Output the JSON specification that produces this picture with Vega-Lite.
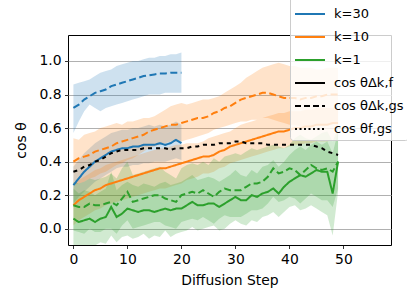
{
"$schema":"https://vega.github.io/schema/vega-lite/v6.json",
"width":323,"height":210,
"autosize":"none",
"padding":{"left":68,"top":35,"right":16,"bottom":60},
"background":"white",
"title":{"text":"5150 Training Epochs","anchor":"start","frame":"group","fontSize":16.5,"fontWeight":"normal","font":"DejaVu Sans","color":"black","offset":6,"dy":3},
"config":{
 "view":{"stroke":"black","strokeWidth":1},
 "axis":{"domain":false,"labelFont":"DejaVu Sans","titleFont":"DejaVu Sans","labelFontSize":13.9,"titleFontSize":13.9,"titleFontWeight":"normal","labelColor":"black","titleColor":"black","tickColor":"black","tickSize":3.5,"tickWidth":0.8,"labelPadding":3.5,"gridColor":"#b0b0b0","gridWidth":1.2},
 "legend":{"orient":"none","legendX":222,"legendY":-41,"title":null,"symbolType":"stroke","symbolSize":900,"symbolStrokeWidth":2,"labelFontSize":13,"labelFont":"DejaVu Sans","labelColor":"black","fillColor":"rgba(255,255,255,0.8)","strokeColor":"#cccccc","cornerRadius":3,"padding":4,"rowPadding":-2.6,"labelOffset":8}
},
"data":{"values":[
{"s":0,"k":"k=30","m":"f","v":0.26,"lo":0.15,"hi":0.37},{"s":1,"k":"k=30","m":"f","v":0.30,"lo":0.19,"hi":0.41},{"s":2,"k":"k=30","m":"f","v":0.34,"lo":0.22,"hi":0.45},{"s":3,"k":"k=30","m":"f","v":0.37,"lo":0.25,"hi":0.48},{"s":4,"k":"k=30","m":"f","v":0.40,"lo":0.28,"hi":0.51},{"s":5,"k":"k=30","m":"f","v":0.42,"lo":0.30,"hi":0.53},{"s":6,"k":"k=30","m":"f","v":0.44,"lo":0.32,"hi":0.55},{"s":7,"k":"k=30","m":"f","v":0.46,"lo":0.34,"hi":0.57},{"s":8,"k":"k=30","m":"f","v":0.47,"lo":0.36,"hi":0.58},{"s":9,"k":"k=30","m":"f","v":0.48,"lo":0.37,"hi":0.59},{"s":10,"k":"k=30","m":"f","v":0.48,"lo":0.37,"hi":0.59},{"s":11,"k":"k=30","m":"f","v":0.49,"lo":0.38,"hi":0.60},{"s":12,"k":"k=30","m":"f","v":0.49,"lo":0.38,"hi":0.60},{"s":13,"k":"k=30","m":"f","v":0.50,"lo":0.39,"hi":0.61},{"s":14,"k":"k=30","m":"f","v":0.50,"lo":0.39,"hi":0.62},{"s":15,"k":"k=30","m":"f","v":0.50,"lo":0.40,"hi":0.61},{"s":16,"k":"k=30","m":"f","v":0.51,"lo":0.40,"hi":0.62},{"s":17,"k":"k=30","m":"f","v":0.50,"lo":0.40,"hi":0.61},{"s":18,"k":"k=30","m":"f","v":0.51,"lo":0.41,"hi":0.62},{"s":19,"k":"k=30","m":"f","v":0.53,"lo":0.42,"hi":0.64},{"s":20,"k":"k=30","m":"f","v":0.51,"lo":0.41,"hi":0.62},
{"s":0,"k":"k=30","m":"gs","v":0.72,"lo":0.57,"hi":0.86},{"s":1,"k":"k=30","m":"gs","v":0.74,"lo":0.64,"hi":0.87},{"s":2,"k":"k=30","m":"gs","v":0.77,"lo":0.70,"hi":0.88},{"s":3,"k":"k=30","m":"gs","v":0.79,"lo":0.74,"hi":0.89},{"s":4,"k":"k=30","m":"gs","v":0.81,"lo":0.72,"hi":0.91},{"s":5,"k":"k=30","m":"gs","v":0.82,"lo":0.70,"hi":0.93},{"s":6,"k":"k=30","m":"gs","v":0.83,"lo":0.72,"hi":0.94},{"s":7,"k":"k=30","m":"gs","v":0.85,"lo":0.73,"hi":0.95},{"s":8,"k":"k=30","m":"gs","v":0.86,"lo":0.74,"hi":0.97},{"s":9,"k":"k=30","m":"gs","v":0.87,"lo":0.75,"hi":0.98},{"s":10,"k":"k=30","m":"gs","v":0.88,"lo":0.76,"hi":0.99},{"s":11,"k":"k=30","m":"gs","v":0.89,"lo":0.77,"hi":1.0},{"s":12,"k":"k=30","m":"gs","v":0.90,"lo":0.78,"hi":1.0},{"s":13,"k":"k=30","m":"gs","v":0.91,"lo":0.79,"hi":1.01},{"s":14,"k":"k=30","m":"gs","v":0.915,"lo":0.80,"hi":1.02},{"s":15,"k":"k=30","m":"gs","v":0.92,"lo":0.80,"hi":1.02},{"s":16,"k":"k=30","m":"gs","v":0.925,"lo":0.80,"hi":1.03},{"s":17,"k":"k=30","m":"gs","v":0.925,"lo":0.81,"hi":1.03},{"s":18,"k":"k=30","m":"gs","v":0.93,"lo":0.81,"hi":1.04},{"s":19,"k":"k=30","m":"gs","v":0.93,"lo":0.81,"hi":1.04},{"s":20,"k":"k=30","m":"gs","v":0.93,"lo":0.81,"hi":1.05},
{"s":0,"k":"k=10","m":"f","v":0.14,"lo":0.02,"hi":0.27},{"s":1,"k":"k=10","m":"f","v":0.17,"lo":0.05,"hi":0.29},{"s":2,"k":"k=10","m":"f","v":0.19,"lo":0.07,"hi":0.31},{"s":3,"k":"k=10","m":"f","v":0.21,"lo":0.09,"hi":0.33},{"s":4,"k":"k=10","m":"f","v":0.23,"lo":0.11,"hi":0.35},{"s":5,"k":"k=10","m":"f","v":0.24,"lo":0.12,"hi":0.36},{"s":6,"k":"k=10","m":"f","v":0.26,"lo":0.14,"hi":0.38},{"s":7,"k":"k=10","m":"f","v":0.27,"lo":0.15,"hi":0.39},{"s":8,"k":"k=10","m":"f","v":0.28,"lo":0.16,"hi":0.40},{"s":9,"k":"k=10","m":"f","v":0.29,"lo":0.17,"hi":0.41},{"s":10,"k":"k=10","m":"f","v":0.30,"lo":0.18,"hi":0.42},{"s":11,"k":"k=10","m":"f","v":0.31,"lo":0.19,"hi":0.43},{"s":12,"k":"k=10","m":"f","v":0.32,"lo":0.20,"hi":0.44},{"s":13,"k":"k=10","m":"f","v":0.33,"lo":0.21,"hi":0.45},{"s":14,"k":"k=10","m":"f","v":0.34,"lo":0.22,"hi":0.46},{"s":15,"k":"k=10","m":"f","v":0.35,"lo":0.23,"hi":0.47},{"s":16,"k":"k=10","m":"f","v":0.36,"lo":0.24,"hi":0.48},{"s":17,"k":"k=10","m":"f","v":0.36,"lo":0.24,"hi":0.48},{"s":18,"k":"k=10","m":"f","v":0.37,"lo":0.25,"hi":0.49},{"s":19,"k":"k=10","m":"f","v":0.38,"lo":0.26,"hi":0.50},{"s":20,"k":"k=10","m":"f","v":0.39,"lo":0.27,"hi":0.50},{"s":21,"k":"k=10","m":"f","v":0.40,"lo":0.29,"hi":0.51},{"s":22,"k":"k=10","m":"f","v":0.41,"lo":0.30,"hi":0.51},{"s":23,"k":"k=10","m":"f","v":0.42,"lo":0.31,"hi":0.51},{"s":24,"k":"k=10","m":"f","v":0.43,"lo":0.33,"hi":0.52},{"s":25,"k":"k=10","m":"f","v":0.43,"lo":0.33,"hi":0.54},{"s":26,"k":"k=10","m":"f","v":0.44,"lo":0.34,"hi":0.55},{"s":27,"k":"k=10","m":"f","v":0.46,"lo":0.36,"hi":0.56},{"s":28,"k":"k=10","m":"f","v":0.47,"lo":0.37,"hi":0.57},{"s":29,"k":"k=10","m":"f","v":0.49,"lo":0.39,"hi":0.58},{"s":30,"k":"k=10","m":"f","v":0.50,"lo":0.40,"hi":0.60},{"s":31,"k":"k=10","m":"f","v":0.51,"lo":0.41,"hi":0.62},{"s":32,"k":"k=10","m":"f","v":0.52,"lo":0.42,"hi":0.63},{"s":33,"k":"k=10","m":"f","v":0.53,"lo":0.43,"hi":0.64},{"s":34,"k":"k=10","m":"f","v":0.54,"lo":0.44,"hi":0.65},{"s":35,"k":"k=10","m":"f","v":0.55,"lo":0.45,"hi":0.66},{"s":36,"k":"k=10","m":"f","v":0.56,"lo":0.46,"hi":0.67},{"s":37,"k":"k=10","m":"f","v":0.57,"lo":0.47,"hi":0.68},{"s":38,"k":"k=10","m":"f","v":0.58,"lo":0.48,"hi":0.69},{"s":39,"k":"k=10","m":"f","v":0.58,"lo":0.48,"hi":0.69},{"s":40,"k":"k=10","m":"f","v":0.59,"lo":0.49,"hi":0.70},{"s":41,"k":"k=10","m":"f","v":0.60,"lo":0.50,"hi":0.70},{"s":42,"k":"k=10","m":"f","v":0.60,"lo":0.50,"hi":0.70},{"s":43,"k":"k=10","m":"f","v":0.61,"lo":0.51,"hi":0.71},{"s":44,"k":"k=10","m":"f","v":0.61,"lo":0.51,"hi":0.71},{"s":45,"k":"k=10","m":"f","v":0.62,"lo":0.52,"hi":0.72},{"s":46,"k":"k=10","m":"f","v":0.62,"lo":0.52,"hi":0.72},{"s":47,"k":"k=10","m":"f","v":0.62,"lo":0.52,"hi":0.72},{"s":48,"k":"k=10","m":"f","v":0.63,"lo":0.53,"hi":0.72},{"s":49,"k":"k=10","m":"f","v":0.63,"lo":0.53,"hi":0.73},
{"s":0,"k":"k=10","m":"gs","v":0.40,"lo":0.26,"hi":0.54},{"s":1,"k":"k=10","m":"gs","v":0.42,"lo":0.27,"hi":0.53},{"s":2,"k":"k=10","m":"gs","v":0.43,"lo":0.28,"hi":0.56},{"s":3,"k":"k=10","m":"gs","v":0.44,"lo":0.30,"hi":0.57},{"s":4,"k":"k=10","m":"gs","v":0.46,"lo":0.31,"hi":0.58},{"s":5,"k":"k=10","m":"gs","v":0.47,"lo":0.33,"hi":0.60},{"s":6,"k":"k=10","m":"gs","v":0.48,"lo":0.34,"hi":0.61},{"s":7,"k":"k=10","m":"gs","v":0.49,"lo":0.36,"hi":0.62},{"s":8,"k":"k=10","m":"gs","v":0.51,"lo":0.38,"hi":0.63},{"s":9,"k":"k=10","m":"gs","v":0.52,"lo":0.39,"hi":0.62},{"s":10,"k":"k=10","m":"gs","v":0.53,"lo":0.41,"hi":0.64},{"s":11,"k":"k=10","m":"gs","v":0.54,"lo":0.42,"hi":0.64},{"s":12,"k":"k=10","m":"gs","v":0.55,"lo":0.44,"hi":0.65},{"s":13,"k":"k=10","m":"gs","v":0.56,"lo":0.46,"hi":0.66},{"s":14,"k":"k=10","m":"gs","v":0.58,"lo":0.48,"hi":0.66},{"s":15,"k":"k=10","m":"gs","v":0.59,"lo":0.49,"hi":0.67},{"s":16,"k":"k=10","m":"gs","v":0.60,"lo":0.50,"hi":0.69},{"s":17,"k":"k=10","m":"gs","v":0.61,"lo":0.51,"hi":0.71},{"s":18,"k":"k=10","m":"gs","v":0.62,"lo":0.52,"hi":0.73},{"s":19,"k":"k=10","m":"gs","v":0.62,"lo":0.52,"hi":0.74},{"s":20,"k":"k=10","m":"gs","v":0.63,"lo":0.52,"hi":0.75},{"s":21,"k":"k=10","m":"gs","v":0.64,"lo":0.53,"hi":0.74},{"s":22,"k":"k=10","m":"gs","v":0.65,"lo":0.54,"hi":0.75},{"s":23,"k":"k=10","m":"gs","v":0.66,"lo":0.55,"hi":0.76},{"s":24,"k":"k=10","m":"gs","v":0.66,"lo":0.56,"hi":0.77},{"s":25,"k":"k=10","m":"gs","v":0.67,"lo":0.57,"hi":0.77},{"s":26,"k":"k=10","m":"gs","v":0.69,"lo":0.59,"hi":0.78},{"s":27,"k":"k=10","m":"gs","v":0.70,"lo":0.60,"hi":0.79},{"s":28,"k":"k=10","m":"gs","v":0.72,"lo":0.61,"hi":0.81},{"s":29,"k":"k=10","m":"gs","v":0.73,"lo":0.62,"hi":0.83},{"s":30,"k":"k=10","m":"gs","v":0.75,"lo":0.63,"hi":0.85},{"s":31,"k":"k=10","m":"gs","v":0.77,"lo":0.64,"hi":0.87},{"s":32,"k":"k=10","m":"gs","v":0.78,"lo":0.64,"hi":0.90},{"s":33,"k":"k=10","m":"gs","v":0.79,"lo":0.65,"hi":0.92},{"s":34,"k":"k=10","m":"gs","v":0.80,"lo":0.65,"hi":0.94},{"s":35,"k":"k=10","m":"gs","v":0.81,"lo":0.66,"hi":0.96},{"s":36,"k":"k=10","m":"gs","v":0.81,"lo":0.66,"hi":0.97},{"s":37,"k":"k=10","m":"gs","v":0.80,"lo":0.65,"hi":0.98},{"s":38,"k":"k=10","m":"gs","v":0.79,"lo":0.64,"hi":0.99},{"s":39,"k":"k=10","m":"gs","v":0.78,"lo":0.63,"hi":0.98},{"s":40,"k":"k=10","m":"gs","v":0.78,"lo":0.62,"hi":0.97},{"s":41,"k":"k=10","m":"gs","v":0.78,"lo":0.62,"hi":0.97},{"s":42,"k":"k=10","m":"gs","v":0.77,"lo":0.61,"hi":0.96},{"s":43,"k":"k=10","m":"gs","v":0.78,"lo":0.61,"hi":0.96},{"s":44,"k":"k=10","m":"gs","v":0.78,"lo":0.61,"hi":0.96},{"s":45,"k":"k=10","m":"gs","v":0.79,"lo":0.62,"hi":0.95},{"s":46,"k":"k=10","m":"gs","v":0.79,"lo":0.62,"hi":0.95},{"s":47,"k":"k=10","m":"gs","v":0.80,"lo":0.62,"hi":0.96},{"s":48,"k":"k=10","m":"gs","v":0.80,"lo":0.63,"hi":0.96},{"s":49,"k":"k=10","m":"gs","v":0.80,"lo":0.63,"hi":0.96},
{"s":0,"k":"k=1","m":"f","v":0.06,"lo":-0.12,"hi":0.24},{"s":1,"k":"k=1","m":"f","v":0.04,"lo":-0.13,"hi":0.21},{"s":2,"k":"k=1","m":"f","v":0.05,"lo":-0.11,"hi":0.23},{"s":3,"k":"k=1","m":"f","v":0.06,"lo":-0.12,"hi":0.22},{"s":4,"k":"k=1","m":"f","v":0.04,"lo":-0.10,"hi":0.20},{"s":5,"k":"k=1","m":"f","v":0.06,"lo":-0.08,"hi":0.22},{"s":6,"k":"k=1","m":"f","v":0.07,"lo":-0.09,"hi":0.24},{"s":7,"k":"k=1","m":"f","v":0.13,"lo":-0.04,"hi":0.34},{"s":8,"k":"k=1","m":"f","v":0.07,"lo":-0.08,"hi":0.23},{"s":9,"k":"k=1","m":"f","v":0.09,"lo":-0.05,"hi":0.26},{"s":10,"k":"k=1","m":"f","v":0.12,"lo":-0.04,"hi":0.28},{"s":11,"k":"k=1","m":"f","v":0.11,"lo":-0.06,"hi":0.26},{"s":12,"k":"k=1","m":"f","v":0.10,"lo":-0.05,"hi":0.25},{"s":13,"k":"k=1","m":"f","v":0.11,"lo":-0.03,"hi":0.27},{"s":14,"k":"k=1","m":"f","v":0.11,"lo":-0.06,"hi":0.26},{"s":15,"k":"k=1","m":"f","v":0.10,"lo":-0.04,"hi":0.25},{"s":16,"k":"k=1","m":"f","v":0.11,"lo":-0.05,"hi":0.27},{"s":17,"k":"k=1","m":"f","v":0.12,"lo":-0.01,"hi":0.28},{"s":18,"k":"k=1","m":"f","v":0.11,"lo":-0.05,"hi":0.26},{"s":19,"k":"k=1","m":"f","v":0.12,"lo":-0.03,"hi":0.27},{"s":20,"k":"k=1","m":"f","v":0.12,"lo":-0.02,"hi":0.28},{"s":21,"k":"k=1","m":"f","v":0.14,"lo":-0.01,"hi":0.30},{"s":22,"k":"k=1","m":"f","v":0.16,"lo":0.01,"hi":0.32},{"s":23,"k":"k=1","m":"f","v":0.14,"lo":-0.01,"hi":0.29},{"s":24,"k":"k=1","m":"f","v":0.14,"lo":0.00,"hi":0.30},{"s":25,"k":"k=1","m":"f","v":0.15,"lo":0.01,"hi":0.31},{"s":26,"k":"k=1","m":"f","v":0.15,"lo":0.02,"hi":0.30},{"s":27,"k":"k=1","m":"f","v":0.13,"lo":-0.01,"hi":0.28},{"s":28,"k":"k=1","m":"f","v":0.15,"lo":0.00,"hi":0.30},{"s":29,"k":"k=1","m":"f","v":0.17,"lo":0.03,"hi":0.32},{"s":30,"k":"k=1","m":"f","v":0.19,"lo":0.05,"hi":0.35},{"s":31,"k":"k=1","m":"f","v":0.17,"lo":0.03,"hi":0.32},{"s":32,"k":"k=1","m":"f","v":0.17,"lo":0.02,"hi":0.31},{"s":33,"k":"k=1","m":"f","v":0.20,"lo":0.05,"hi":0.35},{"s":34,"k":"k=1","m":"f","v":0.19,"lo":0.04,"hi":0.33},{"s":35,"k":"k=1","m":"f","v":0.21,"lo":0.07,"hi":0.37},{"s":36,"k":"k=1","m":"f","v":0.22,"lo":0.08,"hi":0.38},{"s":37,"k":"k=1","m":"f","v":0.24,"lo":0.10,"hi":0.41},{"s":38,"k":"k=1","m":"f","v":0.21,"lo":0.07,"hi":0.37},{"s":39,"k":"k=1","m":"f","v":0.25,"lo":0.10,"hi":0.40},{"s":40,"k":"k=1","m":"f","v":0.28,"lo":0.13,"hi":0.44},{"s":41,"k":"k=1","m":"f","v":0.30,"lo":0.14,"hi":0.47},{"s":42,"k":"k=1","m":"f","v":0.32,"lo":0.11,"hi":0.49},{"s":43,"k":"k=1","m":"f","v":0.31,"lo":0.12,"hi":0.47},{"s":44,"k":"k=1","m":"f","v":0.33,"lo":0.14,"hi":0.50},{"s":45,"k":"k=1","m":"f","v":0.35,"lo":0.12,"hi":0.52},{"s":46,"k":"k=1","m":"f","v":0.34,"lo":0.10,"hi":0.50},{"s":47,"k":"k=1","m":"f","v":0.34,"lo":0.08,"hi":0.52},{"s":48,"k":"k=1","m":"f","v":0.21,"lo":-0.04,"hi":0.45},{"s":49,"k":"k=1","m":"f","v":0.40,"lo":0.22,"hi":0.58},
{"s":0,"k":"k=1","m":"gs","v":0.14,"lo":-0.01,"hi":0.28},{"s":1,"k":"k=1","m":"gs","v":0.13,"lo":-0.02,"hi":0.27},{"s":2,"k":"k=1","m":"gs","v":0.13,"lo":-0.03,"hi":0.28},{"s":3,"k":"k=1","m":"gs","v":0.15,"lo":0.00,"hi":0.30},{"s":4,"k":"k=1","m":"gs","v":0.14,"lo":-0.02,"hi":0.29},{"s":5,"k":"k=1","m":"gs","v":0.14,"lo":-0.02,"hi":0.30},{"s":6,"k":"k=1","m":"gs","v":0.15,"lo":0.00,"hi":0.31},{"s":7,"k":"k=1","m":"gs","v":0.16,"lo":0.00,"hi":0.33},{"s":8,"k":"k=1","m":"gs","v":0.14,"lo":-0.03,"hi":0.30},{"s":9,"k":"k=1","m":"gs","v":0.18,"lo":0.02,"hi":0.36},{"s":10,"k":"k=1","m":"gs","v":0.22,"lo":0.05,"hi":0.40},{"s":11,"k":"k=1","m":"gs","v":0.16,"lo":0.00,"hi":0.32},{"s":12,"k":"k=1","m":"gs","v":0.17,"lo":0.01,"hi":0.33},{"s":13,"k":"k=1","m":"gs","v":0.18,"lo":0.02,"hi":0.34},{"s":14,"k":"k=1","m":"gs","v":0.19,"lo":0.03,"hi":0.35},{"s":15,"k":"k=1","m":"gs","v":0.20,"lo":0.04,"hi":0.36},{"s":16,"k":"k=1","m":"gs","v":0.20,"lo":0.04,"hi":0.37},{"s":17,"k":"k=1","m":"gs","v":0.18,"lo":0.02,"hi":0.34},{"s":18,"k":"k=1","m":"gs","v":0.17,"lo":0.01,"hi":0.32},{"s":19,"k":"k=1","m":"gs","v":0.16,"lo":0.00,"hi":0.30},{"s":20,"k":"k=1","m":"gs","v":0.20,"lo":0.04,"hi":0.36},{"s":21,"k":"k=1","m":"gs","v":0.21,"lo":0.05,"hi":0.38},{"s":22,"k":"k=1","m":"gs","v":0.22,"lo":0.06,"hi":0.39},{"s":23,"k":"k=1","m":"gs","v":0.21,"lo":0.05,"hi":0.38},{"s":24,"k":"k=1","m":"gs","v":0.23,"lo":0.07,"hi":0.40},{"s":25,"k":"k=1","m":"gs","v":0.21,"lo":0.05,"hi":0.38},{"s":26,"k":"k=1","m":"gs","v":0.19,"lo":0.03,"hi":0.42},{"s":27,"k":"k=1","m":"gs","v":0.22,"lo":0.06,"hi":0.40},{"s":28,"k":"k=1","m":"gs","v":0.24,"lo":0.08,"hi":0.43},{"s":29,"k":"k=1","m":"gs","v":0.23,"lo":0.07,"hi":0.44},{"s":30,"k":"k=1","m":"gs","v":0.23,"lo":0.07,"hi":0.45},{"s":31,"k":"k=1","m":"gs","v":0.23,"lo":0.07,"hi":0.44},{"s":32,"k":"k=1","m":"gs","v":0.25,"lo":0.09,"hi":0.46},{"s":33,"k":"k=1","m":"gs","v":0.27,"lo":0.11,"hi":0.48},{"s":34,"k":"k=1","m":"gs","v":0.27,"lo":0.11,"hi":0.47},{"s":35,"k":"k=1","m":"gs","v":0.28,"lo":0.12,"hi":0.48},{"s":36,"k":"k=1","m":"gs","v":0.31,"lo":0.15,"hi":0.49},{"s":37,"k":"k=1","m":"gs","v":0.36,"lo":0.19,"hi":0.50},{"s":38,"k":"k=1","m":"gs","v":0.33,"lo":0.16,"hi":0.49},{"s":39,"k":"k=1","m":"gs","v":0.34,"lo":0.17,"hi":0.48},{"s":40,"k":"k=1","m":"gs","v":0.36,"lo":0.19,"hi":0.50},{"s":41,"k":"k=1","m":"gs","v":0.35,"lo":0.18,"hi":0.54},{"s":42,"k":"k=1","m":"gs","v":0.32,"lo":0.15,"hi":0.56},{"s":43,"k":"k=1","m":"gs","v":0.35,"lo":0.18,"hi":0.54},{"s":44,"k":"k=1","m":"gs","v":0.38,"lo":0.21,"hi":0.53},{"s":45,"k":"k=1","m":"gs","v":0.36,"lo":0.19,"hi":0.55},{"s":46,"k":"k=1","m":"gs","v":0.35,"lo":0.17,"hi":0.57},{"s":47,"k":"k=1","m":"gs","v":0.36,"lo":0.17,"hi":0.58},{"s":48,"k":"k=1","m":"gs","v":0.34,"lo":0.13,"hi":0.52},{"s":49,"k":"k=1","m":"gs","v":0.40,"lo":0.24,"hi":0.60},
{"s":0,"k":"cos θf,gs","m":"fgs","v":0.34},{"s":1,"k":"cos θf,gs","m":"fgs","v":0.35},{"s":2,"k":"cos θf,gs","m":"fgs","v":0.37},{"s":3,"k":"cos θf,gs","m":"fgs","v":0.38},{"s":4,"k":"cos θf,gs","m":"fgs","v":0.40},{"s":5,"k":"cos θf,gs","m":"fgs","v":0.41},{"s":6,"k":"cos θf,gs","m":"fgs","v":0.43},{"s":7,"k":"cos θf,gs","m":"fgs","v":0.45},{"s":8,"k":"cos θf,gs","m":"fgs","v":0.46},{"s":9,"k":"cos θf,gs","m":"fgs","v":0.47},{"s":10,"k":"cos θf,gs","m":"fgs","v":0.47},{"s":11,"k":"cos θf,gs","m":"fgs","v":0.47},{"s":12,"k":"cos θf,gs","m":"fgs","v":0.47},{"s":13,"k":"cos θf,gs","m":"fgs","v":0.48},{"s":14,"k":"cos θf,gs","m":"fgs","v":0.48},{"s":15,"k":"cos θf,gs","m":"fgs","v":0.48},{"s":16,"k":"cos θf,gs","m":"fgs","v":0.48},{"s":17,"k":"cos θf,gs","m":"fgs","v":0.48},{"s":18,"k":"cos θf,gs","m":"fgs","v":0.47},{"s":19,"k":"cos θf,gs","m":"fgs","v":0.48},{"s":20,"k":"cos θf,gs","m":"fgs","v":0.48},{"s":21,"k":"cos θf,gs","m":"fgs","v":0.48},{"s":22,"k":"cos θf,gs","m":"fgs","v":0.49},{"s":23,"k":"cos θf,gs","m":"fgs","v":0.49},{"s":24,"k":"cos θf,gs","m":"fgs","v":0.50},{"s":25,"k":"cos θf,gs","m":"fgs","v":0.50},{"s":26,"k":"cos θf,gs","m":"fgs","v":0.50},{"s":27,"k":"cos θf,gs","m":"fgs","v":0.51},{"s":28,"k":"cos θf,gs","m":"fgs","v":0.51},{"s":29,"k":"cos θf,gs","m":"fgs","v":0.51},{"s":30,"k":"cos θf,gs","m":"fgs","v":0.52},{"s":31,"k":"cos θf,gs","m":"fgs","v":0.52},{"s":32,"k":"cos θf,gs","m":"fgs","v":0.51},{"s":33,"k":"cos θf,gs","m":"fgs","v":0.51},{"s":34,"k":"cos θf,gs","m":"fgs","v":0.51},{"s":35,"k":"cos θf,gs","m":"fgs","v":0.51},{"s":36,"k":"cos θf,gs","m":"fgs","v":0.50},{"s":37,"k":"cos θf,gs","m":"fgs","v":0.50},{"s":38,"k":"cos θf,gs","m":"fgs","v":0.50},{"s":39,"k":"cos θf,gs","m":"fgs","v":0.50},{"s":40,"k":"cos θf,gs","m":"fgs","v":0.50},{"s":41,"k":"cos θf,gs","m":"fgs","v":0.50},{"s":42,"k":"cos θf,gs","m":"fgs","v":0.50},{"s":43,"k":"cos θf,gs","m":"fgs","v":0.50},{"s":44,"k":"cos θf,gs","m":"fgs","v":0.50},{"s":45,"k":"cos θf,gs","m":"fgs","v":0.49},{"s":46,"k":"cos θf,gs","m":"fgs","v":0.48},{"s":47,"k":"cos θf,gs","m":"fgs","v":0.46},{"s":48,"k":"cos θf,gs","m":"fgs","v":0.45},{"s":49,"k":"cos θf,gs","m":"fgs","v":0.44}
]},
"encoding":{
 "x":{"field":"s","type":"quantitative","scale":{"domain":[-1,58.8],"nice":false,"zero":false},"axis":{"values":[0,10,20,30,40,50],"grid":false,"title":"Diffusion Step","labelAngle":0,"titlePadding":8}}
},
"resolve":{"legend":{"color":"independent"}},
"layer":[
 {"transform":[{"filter":"datum.m != 'fgs'"}],
  "mark":{"type":"area","opacity":0.22,"clip":true},
  "encoding":{
   "y":{"field":"lo","type":"quantitative","scale":{"domain":[-0.097,1.155],"nice":false,"zero":false},"axis":{"values":[0,0.2,0.4,0.6,0.8,1.0],"format":".1f","grid":true,"title":"cos θ","titlePadding":10}},
   "y2":{"field":"hi"},
   "color":{"field":"k","type":"nominal","scale":{"domain":["k=30","k=10","k=1","cos θΔk,f","cos θΔk,gs","cos θf,gs"],"range":["#1f77b4","#ff7f0e","#2ca02c","black","black","black"]},"legend":null},
   "detail":{"field":"m"}
  }},
 {"mark":{"type":"line","strokeCap":"butt","clip":true},
  "encoding":{
   "y":{"field":"v","type":"quantitative"},
   "color":{"field":"k","type":"nominal","legend":{"symbolDash":{"expr":"datum.value == 'cos θΔk,gs' ? [6,3] : datum.value == 'cos θf,gs' ? [2,2.5] : [1,0]"}}},
   "strokeDash":{"field":"m","type":"nominal","scale":{"domain":["f","gs","fgs"],"range":[[1,0],[7,3.5],[4,4]]},"legend":null},
   "strokeWidth":{"field":"m","type":"nominal","scale":{"domain":["f","gs","fgs"],"range":[2,2,4]},"legend":null}
  }}
]
}
